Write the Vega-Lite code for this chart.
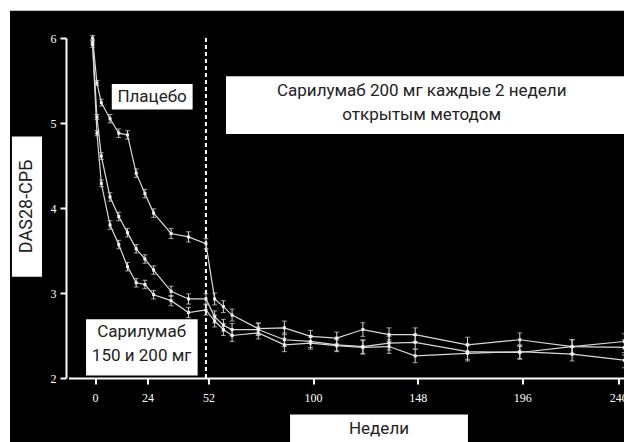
{
  "$schema": "https://vega.github.io/schema/vega-lite/v6.json",
  "width": 558,
  "height": 340,
  "autosize": {"type": "none"},
  "padding": {"left": 66, "top": 38, "right": 0, "bottom": 64},
  "background": "white",
  "config": {"view": {"stroke": null}, "font": "Roboto"},
  "datasets": {
    "series": [
      {"week": 0, "group": "Плацебо", "v": 6.00, "err": 0.03},
      {"week": 2, "group": "Плацебо", "v": 5.47, "err": 0.03},
      {"week": 4, "group": "Плацебо", "v": 5.24, "err": 0.04},
      {"week": 8, "group": "Плацебо", "v": 5.05, "err": 0.05},
      {"week": 12, "group": "Плацебо", "v": 4.88, "err": 0.05},
      {"week": 16, "group": "Плацебо", "v": 4.86, "err": 0.05},
      {"week": 20, "group": "Плацебо", "v": 4.41, "err": 0.05},
      {"week": 24, "group": "Плацебо", "v": 4.17, "err": 0.05},
      {"week": 28, "group": "Плацебо", "v": 3.94, "err": 0.05},
      {"week": 36, "group": "Плацебо", "v": 3.70, "err": 0.06},
      {"week": 44, "group": "Плацебо", "v": 3.66, "err": 0.06},
      {"week": 52, "group": "Плацебо", "v": 3.58, "err": 0.06},
      {"week": 56, "group": "Плацебо", "v": 2.93, "err": 0.07},
      {"week": 60, "group": "Плацебо", "v": 2.84, "err": 0.07},
      {"week": 64, "group": "Плацебо", "v": 2.74, "err": 0.07},
      {"week": 76, "group": "Плацебо", "v": 2.58, "err": 0.07},
      {"week": 88, "group": "Плацебо", "v": 2.59, "err": 0.08},
      {"week": 100, "group": "Плацебо", "v": 2.49, "err": 0.07},
      {"week": 112, "group": "Плацебо", "v": 2.47, "err": 0.07},
      {"week": 124, "group": "Плацебо", "v": 2.57, "err": 0.08},
      {"week": 136, "group": "Плацебо", "v": 2.51, "err": 0.08},
      {"week": 148, "group": "Плацебо", "v": 2.51, "err": 0.08},
      {"week": 172, "group": "Плацебо", "v": 2.39, "err": 0.09},
      {"week": 196, "group": "Плацебо", "v": 2.45, "err": 0.08},
      {"week": 220, "group": "Плацебо", "v": 2.37, "err": 0.08},
      {"week": 244, "group": "Плацебо", "v": 2.36, "err": 0.09},
      {"week": 0, "group": "Сарилумаб 150 мг", "v": 5.95, "err": 0.03},
      {"week": 2, "group": "Сарилумаб 150 мг", "v": 5.07, "err": 0.03},
      {"week": 4, "group": "Сарилумаб 150 мг", "v": 4.61, "err": 0.04},
      {"week": 8, "group": "Сарилумаб 150 мг", "v": 4.13, "err": 0.05},
      {"week": 12, "group": "Сарилумаб 150 мг", "v": 3.90, "err": 0.05},
      {"week": 16, "group": "Сарилумаб 150 мг", "v": 3.71, "err": 0.05},
      {"week": 20, "group": "Сарилумаб 150 мг", "v": 3.52, "err": 0.05},
      {"week": 24, "group": "Сарилумаб 150 мг", "v": 3.40, "err": 0.05},
      {"week": 28, "group": "Сарилумаб 150 мг", "v": 3.27, "err": 0.05},
      {"week": 36, "group": "Сарилумаб 150 мг", "v": 3.02, "err": 0.06},
      {"week": 44, "group": "Сарилумаб 150 мг", "v": 2.93, "err": 0.06},
      {"week": 52, "group": "Сарилумаб 150 мг", "v": 2.93, "err": 0.06},
      {"week": 56, "group": "Сарилумаб 150 мг", "v": 2.72, "err": 0.07},
      {"week": 60, "group": "Сарилумаб 150 мг", "v": 2.62, "err": 0.07},
      {"week": 64, "group": "Сарилумаб 150 мг", "v": 2.57, "err": 0.07},
      {"week": 76, "group": "Сарилумаб 150 мг", "v": 2.57, "err": 0.07},
      {"week": 88, "group": "Сарилумаб 150 мг", "v": 2.45, "err": 0.08},
      {"week": 100, "group": "Сарилумаб 150 мг", "v": 2.43, "err": 0.07},
      {"week": 112, "group": "Сарилумаб 150 мг", "v": 2.39, "err": 0.07},
      {"week": 124, "group": "Сарилумаб 150 мг", "v": 2.37, "err": 0.08},
      {"week": 136, "group": "Сарилумаб 150 мг", "v": 2.41, "err": 0.08},
      {"week": 148, "group": "Сарилумаб 150 мг", "v": 2.42, "err": 0.08},
      {"week": 172, "group": "Сарилумаб 150 мг", "v": 2.31, "err": 0.09},
      {"week": 196, "group": "Сарилумаб 150 мг", "v": 2.30, "err": 0.08},
      {"week": 220, "group": "Сарилумаб 150 мг", "v": 2.37, "err": 0.08},
      {"week": 244, "group": "Сарилумаб 150 мг", "v": 2.43, "err": 0.09},
      {"week": 0, "group": "Сарилумаб 200 мг", "v": 5.92, "err": 0.03},
      {"week": 2, "group": "Сарилумаб 200 мг", "v": 4.88, "err": 0.03},
      {"week": 4, "group": "Сарилумаб 200 мг", "v": 4.29, "err": 0.04},
      {"week": 8, "group": "Сарилумаб 200 мг", "v": 3.80, "err": 0.05},
      {"week": 12, "group": "Сарилумаб 200 мг", "v": 3.57, "err": 0.05},
      {"week": 16, "group": "Сарилумаб 200 мг", "v": 3.31, "err": 0.05},
      {"week": 20, "group": "Сарилумаб 200 мг", "v": 3.12, "err": 0.05},
      {"week": 24, "group": "Сарилумаб 200 мг", "v": 3.10, "err": 0.05},
      {"week": 28, "group": "Сарилумаб 200 мг", "v": 2.98, "err": 0.05},
      {"week": 36, "group": "Сарилумаб 200 мг", "v": 2.91, "err": 0.06},
      {"week": 44, "group": "Сарилумаб 200 мг", "v": 2.77, "err": 0.06},
      {"week": 52, "group": "Сарилумаб 200 мг", "v": 2.80, "err": 0.06},
      {"week": 56, "group": "Сарилумаб 200 мг", "v": 2.67, "err": 0.07},
      {"week": 60, "group": "Сарилумаб 200 мг", "v": 2.57, "err": 0.07},
      {"week": 64, "group": "Сарилумаб 200 мг", "v": 2.50, "err": 0.07},
      {"week": 76, "group": "Сарилумаб 200 мг", "v": 2.53, "err": 0.07},
      {"week": 88, "group": "Сарилумаб 200 мг", "v": 2.39, "err": 0.08},
      {"week": 100, "group": "Сарилумаб 200 мг", "v": 2.41, "err": 0.07},
      {"week": 112, "group": "Сарилумаб 200 мг", "v": 2.38, "err": 0.07},
      {"week": 124, "group": "Сарилумаб 200 мг", "v": 2.36, "err": 0.08},
      {"week": 136, "group": "Сарилумаб 200 мг", "v": 2.37, "err": 0.08},
      {"week": 148, "group": "Сарилумаб 200 мг", "v": 2.26, "err": 0.08},
      {"week": 172, "group": "Сарилумаб 200 мг", "v": 2.29, "err": 0.09},
      {"week": 196, "group": "Сарилумаб 200 мг", "v": 2.31, "err": 0.08},
      {"week": 220, "group": "Сарилумаб 200 мг", "v": 2.28, "err": 0.08},
      {"week": 244, "group": "Сарилумаб 200 мг", "v": 2.21, "err": 0.09}
    ],
    "panel": [
      {"kind": "bg", "x": -37.9, "x2": 260, "y": 6.32, "y2": 1.1}
    ],
    "boxes": [
      {"name": "placebo", "x": 8.8, "x2": 45.9, "y": 5.46, "y2": 5.16},
      {"name": "ole", "x": 61.2, "x2": 260, "y": 5.55, "y2": 4.87},
      {"name": "sari", "x": -3.0, "x2": 48.2, "y": 2.69, "y2": 2.03},
      {"name": "ytitle", "x": -37.0, "x2": -23.2, "y": 4.84, "y2": 3.19},
      {"name": "xtitle", "x": 90.6, "x2": 172.2, "y": 1.57, "y2": 1.1}
    ],
    "labels": [
      {"x": 27.3, "y": 5.31, "label": "Плацебо"},
      {"x": 151, "y": 5.38, "label": "Сарилумаб 200 мг каждые 2 недели\nоткрытым методом"},
      {"x": 22.5, "y": 2.545, "label": "Сарилумаб\n150 и 200 мг"},
      {"x": 131.4, "y": 1.40, "label": "Недели"}
    ],
    "vlabels": [
      {"x": -30.1, "y": 4.02, "label": "DAS28-СРБ"}
    ],
    "switch": [
      {"week": 52}
    ]
  },
  "layer": [
    {
      "data": {"name": "panel"},
      "mark": {"type": "rect", "color": "black", "clip": false},
      "encoding": {
        "x": {"field": "x", "type": "quantitative", "scale": {"domain": [-12.2, 243.8], "nice": false, "zero": false},
          "axis": {"values": [0, 24, 52, 100, 148, 196, 240], "format": "d", "title": null, "grid": false, "zindex": 1,
            "translate": 3, "offset": -2.5,
            "domainColor": "white", "domainWidth": 2, "tickColor": "white", "tickWidth": 2, "tickSize": 6,
            "labelColor": "white", "labelFont": "Liberation Serif", "labelFontSize": 12, "labelPadding": 8,
            "labelFlush": false, "labelOverlap": false}},
        "x2": {"field": "x2"},
        "y": {"field": "y", "type": "quantitative", "scale": {"domain": [2, 6], "nice": false, "zero": false},
          "axis": {"values": [2, 3, 4, 5, 6], "format": "d", "title": null, "grid": false, "zindex": 1,
            "domainColor": "white", "domainWidth": 2, "tickColor": "white", "tickWidth": 2, "tickSize": 6,
            "labelColor": "white", "labelFont": "Liberation Serif", "labelFontSize": 12, "labelPadding": 4,
            "labelFlush": false, "labelOverlap": false}},
        "y2": {"field": "y2"}
      }
    },
    {
      "data": {"name": "boxes"},
      "mark": {"type": "rect", "color": "white", "clip": false},
      "encoding": {
        "x": {"field": "x", "type": "quantitative"},
        "x2": {"field": "x2"},
        "y": {"field": "y", "type": "quantitative"},
        "y2": {"field": "y2"}
      }
    },
    {
      "data": {"name": "switch"},
      "mark": {"type": "rule", "color": "white", "strokeWidth": 2, "strokeDash": [4, 3]},
      "encoding": {
        "x": {"field": "week", "type": "quantitative"}
      }
    },
    {
      "data": {"name": "series"},
      "mark": {"type": "line", "color": "#d9d9d9", "strokeWidth": 1.2},
      "encoding": {
        "x": {"field": "week", "type": "quantitative"},
        "y": {"field": "v", "type": "quantitative"},
        "detail": {"field": "group", "type": "nominal"}
      }
    },
    {
      "data": {"name": "series"},
      "mark": {"type": "errorbar", "color": "#d9d9d9", "ticks": {"size": 5}},
      "encoding": {
        "x": {"field": "week", "type": "quantitative"},
        "y": {"field": "v", "type": "quantitative"},
        "yError": {"field": "err"},
        "detail": {"field": "group", "type": "nominal"}
      }
    },
    {
      "data": {"name": "series"},
      "mark": {"type": "point", "shape": "square", "size": 9, "filled": true, "color": "#f2f2f2", "opacity": 1},
      "encoding": {
        "x": {"field": "week", "type": "quantitative"},
        "y": {"field": "v", "type": "quantitative"},
        "detail": {"field": "group", "type": "nominal"}
      }
    },
    {
      "data": {"name": "labels"},
      "mark": {"type": "text", "font": "Roboto", "fontSize": 17, "color": "#222222", "lineBreak": "\n", "lineHeight": 24, "align": "center", "baseline": "middle", "clip": false},
      "encoding": {
        "x": {"field": "x", "type": "quantitative"},
        "y": {"field": "y", "type": "quantitative"},
        "text": {"field": "label"}
      }
    },
    {
      "data": {"name": "vlabels"},
      "mark": {"type": "text", "font": "Roboto", "fontSize": 18, "color": "#222222", "angle": 270, "align": "center", "baseline": "middle", "clip": false},
      "encoding": {
        "x": {"field": "x", "type": "quantitative"},
        "y": {"field": "y", "type": "quantitative"},
        "text": {"field": "label"}
      }
    }
  ]
}
